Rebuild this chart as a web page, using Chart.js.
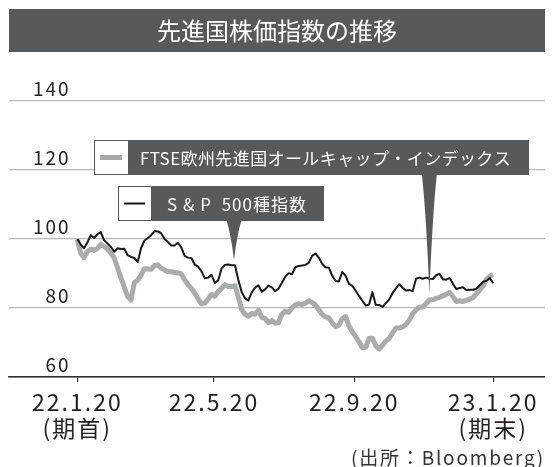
<!DOCTYPE HTML>
<html>
<head>
<meta charset="utf-8">
<script src="https://cdn.jsdelivr.net/npm/chart.js@4"></script>
<style>
  body { margin: 0; background: #fff; }
  #wrap { width: 552px; height: 467px; }
</style>
</head>
<body>
<div id="wrap"><canvas id="myChart" width="552" height="467"></canvas></div>

<script type="text/javascript">
// 22.1.20 = day 0, 23.1.20 = day 365
var tickDays = [0, 120, 243, 365];
var tickLabels = [['22.1.20', '(期首)'], ['22.5.20'], ['22.9.20'], ['23.1.20', '(期末)']];
var yTicks = [60, 80, 100, 120, 140];

var spName = 'S & P  500種指数';
var ftseName = 'FTSE欧州先進国オールキャップ・インデックス';

// S&P 500 (black)
var spValues = [
  100.0, 98.4, 97.3, 99.0, 101.1, 100.3, 101.4, 102.0, 99.6, 98.7,
  97.7, 96.3, 97.3, 97.1, 97.2, 95.3, 94.8, 94.5, 93.3, 97.4,
  99.5, 100.3, 101.1, 102.3, 102.2, 101.7, 100.0, 99.1, 98.1, 98.1,
  98.9, 97.6, 95.1, 94.6, 94.5, 92.6, 92.0, 90.7, 88.6, 88.8,
  89.6, 87.3, 88.0, 91.4, 92.5, 92.6, 92.4, 92.4, 88.2, 84.6,
  82.8, 82.2, 84.5, 85.9, 86.6, 84.7, 85.4, 86.5, 86.0, 84.9,
  85.6, 87.3, 89.1, 90.1, 89.8, 91.8, 92.2, 92.3, 92.5, 93.1,
  95.1, 95.8, 94.6, 92.8, 91.8, 91.7, 89.4, 87.8, 87.7, 90.5,
  89.3, 87.0, 86.4, 85.0, 83.5, 82.1, 80.7, 81.0, 84.6, 80.9,
  80.9, 80.3, 81.4, 82.5, 84.3, 85.7, 86.9, 85.8, 85.1, 85.2,
  84.9, 88.5, 88.8, 88.5, 88.8, 88.5, 88.4, 89.5, 89.9, 88.3,
  88.2, 88.7, 87.0, 85.5, 85.8, 86.0, 85.2, 85.3, 85.3, 85.6,
  86.6, 87.6, 87.9, 88.7, 87.2
];

// FTSE Developed Europe All Cap (gray)
var ftseValues = [
  99.8, 95.9, 94.6, 96.4, 97.1, 96.7, 97.3, 98.5, 97.8, 97.1,
  95.9, 94.5, 91.6, 88.8, 86.0, 83.3, 82.3, 87.4, 88.1, 89.5,
  91.4, 91.3, 91.2, 92.3, 92.5, 91.5, 91.0, 90.5, 90.5, 90.3,
  90.2, 89.9, 88.1, 86.8, 85.7, 84.3, 82.7, 81.2, 81.4, 82.6,
  83.9, 83.4, 84.8, 85.7, 86.8, 86.2, 86.2, 86.5, 83.2, 79.6,
  78.2, 77.6, 78.4, 78.2, 79.4, 77.3, 77.0, 75.7, 76.4, 75.6,
  75.8, 78.2, 79.1, 78.7, 80.0, 80.9, 81.2, 81.0, 81.4, 82.1,
  81.6, 80.9, 79.5, 78.2, 77.4, 77.1, 75.7, 74.6, 75.0, 77.0,
  77.5, 74.8, 73.1, 71.7, 70.2, 68.5, 68.6, 71.2, 71.2, 69.0,
  68.1, 69.2, 70.4, 71.2, 72.7, 74.2, 74.2, 74.5, 75.2, 76.5,
  78.3, 79.5, 80.2, 80.3, 81.3, 82.4, 82.4, 82.8, 83.1, 83.5,
  84.0, 84.5, 83.3, 81.9, 82.1, 81.9, 82.2, 82.6, 83.0, 84.1,
  85.2, 86.5, 88.3, 89.2, 89.7
];

var step = 365 / (spValues.length - 1);
function toPoints(vals) {
  return vals.map(function (v, i) { return { x: i * step, y: v }; });
}

var FONT = '"Noto Sans CJK JP", "Noto Sans", sans-serif';
var DARK = '#58595b';

function drawCallout(chart, box, tipDay, vals, gap, lineStyle, text, textPad) {
  var ctx = chart.ctx;
  var xs = chart.scales.x, ys = chart.scales.y;
  var idx = Math.round(tipDay / step);
  var tx = xs.getPixelForValue(tipDay);
  var ty = ys.getPixelForValue(vals[idx]) - gap;
  var by = box.y + box.h;
  var cy = by + (ty - by) * 0.35;
  ctx.save();
  ctx.fillStyle = DARK;
  ctx.beginPath();
  ctx.moveTo(tx - 7.5, by - 1);
  ctx.quadraticCurveTo(tx - 3, cy, tx, ty);
  ctx.quadraticCurveTo(tx + 3, cy, tx + 7.5, by - 1);
  ctx.closePath();
  ctx.fill();
  ctx.fillRect(box.x, box.y, box.w, box.h);
  ctx.fillStyle = '#fff';
  ctx.fillRect(box.x + 1, box.y + 1, box.sq - 1, box.h - 2);
  ctx.strokeStyle = lineStyle.color;
  ctx.lineWidth = lineStyle.width;
  ctx.beginPath();
  ctx.moveTo(box.x + 6, box.y + box.h / 2);
  ctx.lineTo(box.x + box.sq - 6, box.y + box.h / 2);
  ctx.stroke();
  ctx.fillStyle = '#fff';
  ctx.font = '17px ' + FONT;
  ctx.letterSpacing = text === ftseName ? '0.4px' : '1px';
  ctx.textAlign = 'left';
  ctx.textBaseline = 'middle';
  ctx.fillText(text, box.x + box.sq + textPad, box.y + box.h / 2 + 1);
  ctx.restore();
}

var decor = {
  id: 'decor',
  beforeDraw: function (chart) {
    var ctx = chart.ctx;
    ctx.save();
    ctx.fillStyle = '#fff';
    ctx.fillRect(0, 0, chart.width, chart.height);
    ctx.fillStyle = DARK;
    ctx.fillRect(9, 9, 536, 43);
    ctx.fillStyle = '#fff';
    ctx.font = '24px ' + FONT;
    ctx.textAlign = 'center';
    ctx.textBaseline = 'middle';
    ctx.fillText('先進国株価指数の推移', 277, 31);
    ctx.restore();
    // wider spacing for axis labels
    ctx.letterSpacing = '2px';
  },
  beforeDatasetsDraw: function (chart) {
    chart.ctx.letterSpacing = '0px';
  },
  afterDatasetsDraw: function (chart) {
    drawCallout(chart, { x: 94, y: 140, w: 435, h: 35, sq: 34 }, 309, ftseValues, 6,
      { color: '#a7a9ab', width: 5 }, ftseName, 12);
    drawCallout(chart, { x: 118, y: 186, w: 206, h: 35, sq: 33 }, 137.5, spValues, 5,
      { color: '#1a1a1a', width: 2 }, spName, 16);
  },
  afterDraw: function (chart) {
    var ctx = chart.ctx;
    ctx.save();
    ctx.fillStyle = '#333';
    ctx.font = '19px ' + FONT;
    ctx.letterSpacing = '1.8px';
    ctx.textAlign = 'right';
    ctx.textBaseline = 'middle';
    ctx.fillText('(出所：Bloomberg)', 545, 458);
    ctx.restore();
  }
};

var ctx = document.getElementById('myChart');
var myChart = new Chart(ctx, {
  type: 'line',
  data: {
    datasets: [{
      label: spName,
      data: toPoints(spValues),
      borderColor: '#1a1a1a',
      borderWidth: 2,
      pointRadius: 0,
      tension: 0,
      borderJoinStyle: 'round'
    }, {
      label: ftseName,
      data: toPoints(ftseValues),
      borderColor: '#a9abad',
      borderWidth: 5,
      pointRadius: 0,
      tension: 0,
      borderJoinStyle: 'round'
    }]
  },
  options: {
    responsive: false,
    animation: false,
    layout: { padding: { top: 101, left: 9, right: 7, bottom: 0 } },
    plugins: { legend: { display: false }, tooltip: { enabled: false } },
    scales: {
      x: {
        type: 'linear',
        min: -60,
        max: 410.5,
        afterFit: function (s) { s.height = 90; },
        afterBuildTicks: function (s) {
          s.ticks = tickDays.map(function (d) { return { value: d }; });
        },
        grid: { drawOnChartArea: false, drawTicks: true, tickLength: 5, color: '#333', lineWidth: 1.2 },
        border: { display: true, color: '#333', width: 1.5 },
        ticks: {
          autoSkip: false,
          maxRotation: 0,
          padding: 7,
          color: '#231f20',
          font: { family: FONT, size: 23, lineHeight: 1.13 },
          callback: function (v, i) { return tickLabels[i]; }
        }
      },
      y: {
        min: 60,
        max: 140,
        afterFit: function (s) { s.width = 0; },
        afterBuildTicks: function (s) {
          s.ticks = yTicks.map(function (v) { return { value: v }; });
        },
        grid: {
          drawTicks: false,
          color: function (c) { return c.tick && c.tick.value === 60 ? '#333' : '#b8b8b8'; },
          lineWidth: 1.3
        },
        border: { display: false },
        ticks: {
          mirror: true,
          padding: 24,
          labelOffset: -12,
          color: '#231f20',
          font: { family: FONT, size: 19 },
          callback: function (v) { return v < 100 ? '\u2007' + v : String(v); }
        }
      }
    }
  },
  plugins: [decor]
});
</script>
</body>
</html>
